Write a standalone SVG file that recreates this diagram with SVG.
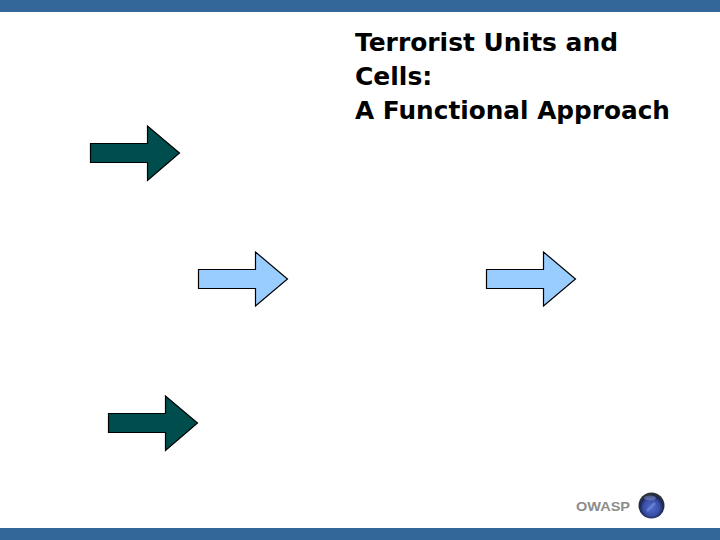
<svg xmlns="http://www.w3.org/2000/svg" width="720" height="540" viewBox="0 0 720 540">
<defs>
<radialGradient id="globe" cx="0.5" cy="0.58" r="0.52">
<stop offset="0" stop-color="#4f6ccf"/>
<stop offset="0.6" stop-color="#3a4fa6"/>
<stop offset="0.85" stop-color="#1e2858"/>
<stop offset="1" stop-color="#2c3238"/>
</radialGradient>
</defs>
<style>
.bar{fill:#336699}
.dark{fill:#004d4d;stroke:#000;stroke-width:1.2}
.light{fill:#99ccff;stroke:#000;stroke-width:1.2}
.title{font-family:"DejaVu Sans","Liberation Sans",sans-serif;font-weight:700;font-size:25px;fill:#000}
.logo{font-family:"Liberation Sans",Arial,sans-serif;font-weight:700;font-size:13px;fill:#8c8c8c}
</style>
<rect width="720" height="540" fill="#fff"/>
<rect class="bar" x="0" y="0" width="720" height="12"/>
<rect class="bar" x="0" y="528" width="720" height="12"/>
<g id="title">
<text class="title" x="355" y="51" textLength="263" lengthAdjust="spacingAndGlyphs">Terrorist Units and</text>
<text class="title" x="355" y="85">Cells:</text>
<text class="title" x="355" y="119" textLength="315" lengthAdjust="spacingAndGlyphs">A Functional Approach</text>
</g>
<g id="connectors">
<path class="dark" d="M90.500 143.500H147.500V126L179.500 153L147.500 180.500V162.500H90.500Z"/>
<path class="light" d="M198.500 269.500H255.500V252L287.500 279L255.500 306V288.500H198.500Z"/>
<path class="light" d="M486.500 269.500H543.500V252L575.500 279L543.500 306V288.500H486.500Z"/>
<path class="dark" d="M108.500 413.500H165.500V396L197.500 423L165.500 450.500V432.500H108.500Z"/>
</g>
<g id="owasp">
<text class="logo" x="576" y="511" textLength="54" lengthAdjust="spacingAndGlyphs">OWASP</text>
<circle cx="651.500" cy="505.500" r="13" fill="url(#globe)"/>
<ellipse cx="650" cy="498" rx="6" ry="2.500" fill="#8f9fd8" opacity="0.45"/>
<path d="M647 511L655 503" stroke="#7f92de" stroke-width="2.500" fill="none" opacity="0.6"/>
</g>
</svg>
